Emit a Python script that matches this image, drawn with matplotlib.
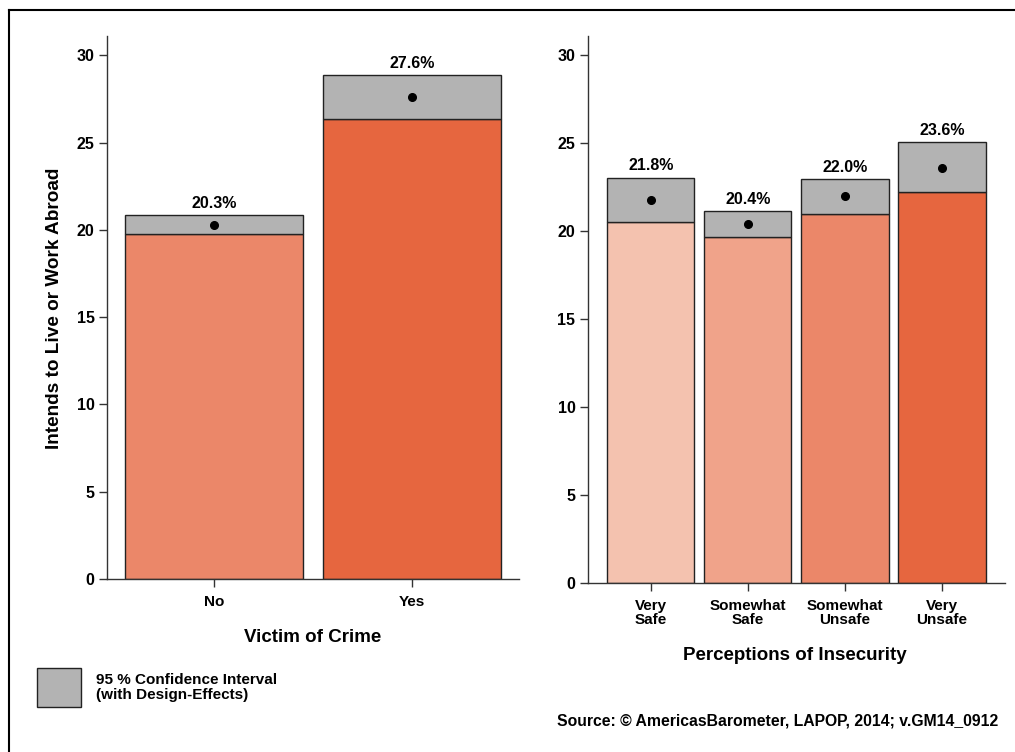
import matplotlib
matplotlib.use("Agg")
import matplotlib.pyplot as plt
from matplotlib.patches import Rectangle
from matplotlib.lines import Line2D

plt.rcParams['font.family'] = ['Liberation Sans', 'DejaVu Sans']
plt.rcParams['font.weight'] = 'bold'

# ---- data ----
crime_cats = ["No", "Yes"]
crime_mean = [20.3, 27.6]
crime_low = [19.75, 26.35]
crime_high = [20.85, 28.85]
crime_colors = ["#EB8769", "#E6663F"]

insec_cats = ["Very\nSafe", "Somewhat\nSafe", "Somewhat\nUnsafe", "Very\nUnsafe"]
insec_mean = [21.8, 20.4, 22.0, 23.6]
insec_low = [20.5, 19.7, 21.0, 22.25]
insec_high = [23.05, 21.15, 22.95, 25.05]
insec_colors = ["#F4C2AF", "#F0A38A", "#EB8769", "#E6663F"]

yticks = [0, 5, 10, 15, 20, 25, 30]
ci_color = "#B3B3B3"

W, H = 1015, 752
fig = plt.figure(figsize=(W / 100, H / 100), dpi=100)

def px_axes(x0, x1, ytop, ybot):
    return fig.add_axes([x0 / W, 1 - ybot / H, (x1 - x0) / W, (ybot - ytop) / H])

def draw_panel(ax, cats, mean, low, high, colors, width, xlim):
    xs = list(range(len(cats)))
    ax.bar(xs, low, width=width, color=colors, edgecolor="#222222", linewidth=1.0, zorder=2)
    ax.bar(xs, [h - l for h, l in zip(high, low)], bottom=low, width=width,
           color=ci_color, edgecolor="#222222", linewidth=1.0, zorder=2)
    ax.plot(xs, mean, "o", color="black", markersize=5.5, zorder=3)
    for x, m, h in zip(xs, mean, high):
        ax.annotate(f"{m:.1f}%", (x, h), xytext=(0, 3), textcoords="offset points",
                    ha="center", va="bottom", fontsize=11.5, fontweight="bold")
    ax.set_xticks(xs)
    ax.set_xticklabels(cats, fontsize=11, fontweight="bold", linespacing=1.0)
    ax.set_yticks(yticks)
    ax.set_yticklabels([str(t) for t in yticks], fontsize=11.5, fontweight="bold")
    ax.set_ylim(0, 31.1)
    ax.set_xlim(*xlim)
    for s in ["top", "right"]:
        ax.spines[s].set_visible(False)
    for s in ["left", "bottom"]:
        ax.spines[s].set_color("#333333")
        ax.spines[s].set_linewidth(1.0)
    ax.tick_params(axis="both", length=6, width=1, color="#333333", direction="out", pad=3)
    ax.tick_params(axis="x", pad=5.5)

ax1 = px_axes(107, 519, 36, 579)
draw_panel(ax1, crime_cats, crime_mean, crime_low, crime_high, crime_colors, 0.894, (-0.54, 1.54))

ax2 = px_axes(588, 1005, 36, 583)
draw_panel(ax2, insec_cats, insec_mean, insec_low, insec_high, insec_colors, 0.9, (-0.646, 3.65))

fig.text(313 / W, 1 - 637 / H, "Victim of Crime", ha="center", va="center",
         fontsize=13.5, fontweight="bold")
fig.text(795 / W, 1 - 656 / H, "Perceptions of Insecurity", ha="center", va="center",
         fontsize=13.5, fontweight="bold")

fig.text(55 / W, 1 - 308 / H, "Intends to Live or Work Abroad", rotation=90,
         ha="center", va="center", fontsize=13.7, fontweight="bold")

# legend
fig.patches.append(Rectangle((37 / W, 1 - 707 / H), 44 / W, 39 / H, transform=fig.transFigure,
                             facecolor=ci_color, edgecolor="#222222", linewidth=1.0))
fig.text(96 / W, 1 - 687.5 / H, "95 % Confidence Interval\n(with Design-Effects)", ha="left",
         va="center", fontsize=11, fontweight="bold", linespacing=1.1)

fig.text(557 / W, 1 - 721 / H, "Source: \u00a9 AmericasBarometer, LAPOP, 2014; v.GM14_0912",
         ha="left", va="center", fontsize=11.3, fontweight="bold")

# border (top and left lines)
fig.lines.append(Line2D([9 / W, 1], [1 - 10 / H, 1 - 10 / H], transform=fig.transFigure,
                        color="black", linewidth=1.5))
fig.lines.append(Line2D([9 / W, 9 / W], [0, 1 - 10 / H], transform=fig.transFigure,
                        color="black", linewidth=1.5))

fig.savefig("out.png", dpi=100)
